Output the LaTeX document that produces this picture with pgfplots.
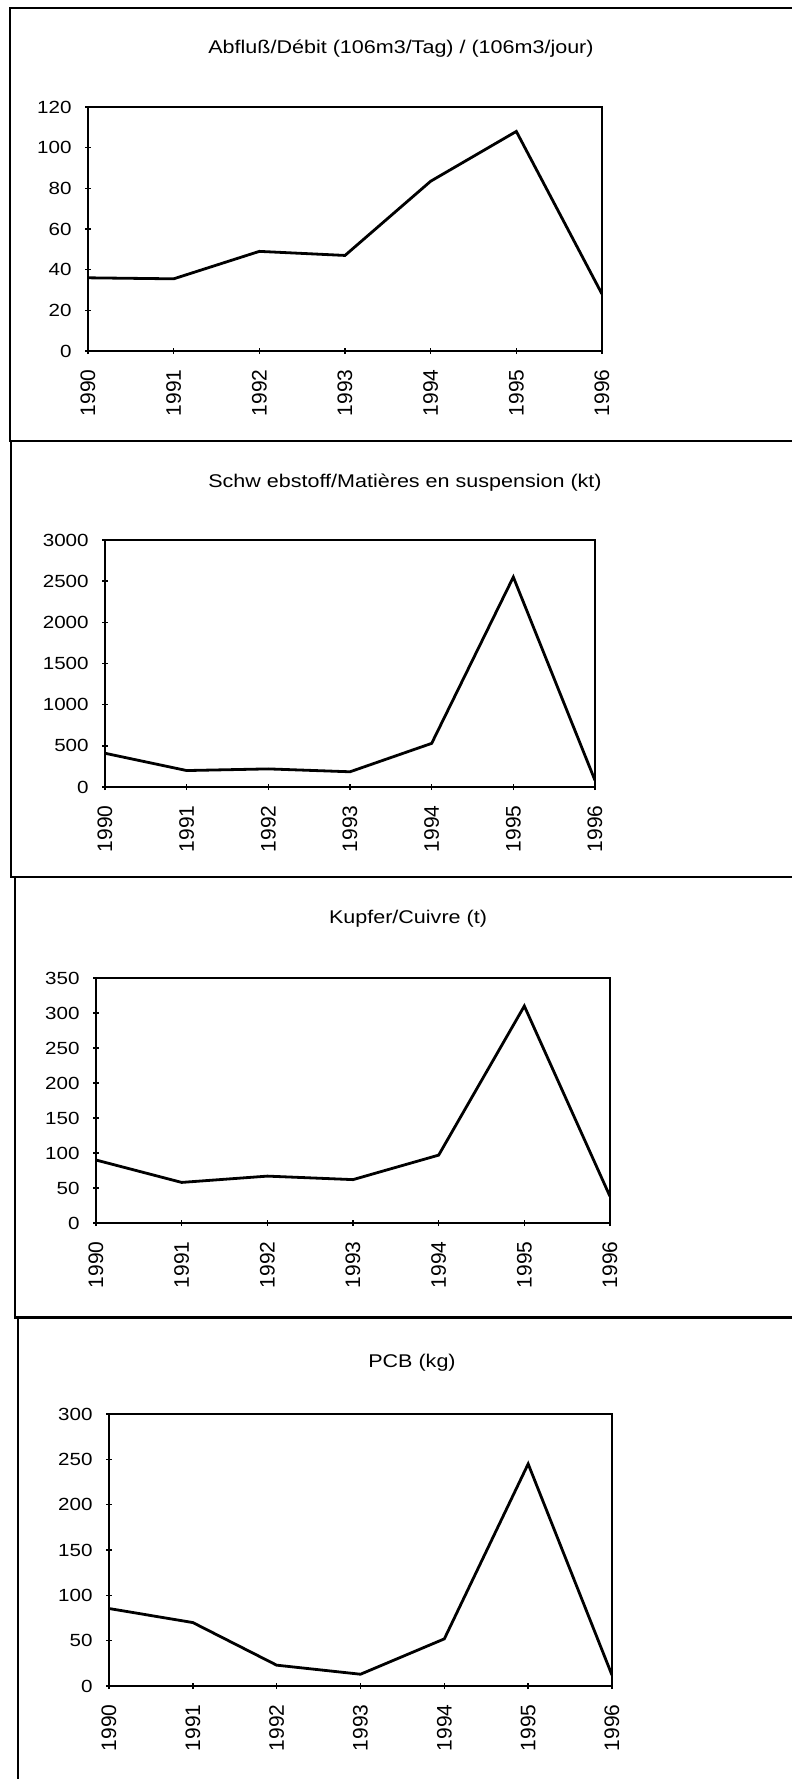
\documentclass[border=0pt]{standalone}
\usepackage{fontspec}
\setmainfont{Liberation Sans}[FakeStretch=1.17]
\newfontfamily\xlab{Liberation Sans}
\usepackage{pgfplots}
\pgfplotsset{compat=1.18}

\pgfplotsset{
  panel/.style={
    scale only axis,
    anchor=south west,
    xmin=1990, xmax=1996,
    xtick={1990,...,1996},
    ymin=0,
    xtick pos=bottom,
    ytick pos=left,
    tick align=center,
    major tick length=3pt,
    every tick/.style={black, line width=0.7pt},
    axis line style={line width=1pt},
    /pgf/number format/assume math mode=true,
    /pgf/number format/1000 sep={},
    yticklabel style={font=\fontsize{8.8}{10}\selectfont, inner sep=0pt},
    yticklabel shift=6.5pt,
    xticklabel style={font=\xlab\fontsize{10.5}{12}\selectfont, rotate=90, anchor=east, inner sep=0pt},
    xticklabel shift=7.5pt,
  },
  curve/.style={black, line width=1.4pt, no marks},
}

\begin{document}
\begin{tikzpicture}
\useasboundingbox (0pt,0pt) rectangle (396pt,-889.5pt);

% panel frames
\draw[line width=1.3pt] (5pt,-4pt) rectangle (420pt,-220.5pt);
\draw[line width=1.3pt] (5.5pt,-220.5pt) rectangle (420pt,-438.5pt);
\draw[line width=1.3pt] (7.5pt,-438.5pt) rectangle (420pt,-658.75pt);
\draw[line width=1.3pt] (9pt,-658.75pt) rectangle (420pt,-900pt);

% titles
\node[font=\fontsize{9.2}{11}\selectfont] at (200.5pt,-24.5pt) {Abfluß/Débit (106m3/Tag) / (106m3/jour)};
\node[font=\fontsize{9.2}{11}\selectfont] at (202.5pt,-241.5pt) {Schw ebstoff/Matières en suspension (kt)};
\node[font=\fontsize{9.2}{11}\selectfont] at (204pt,-459.5pt) {Kupfer/Cuivre (t)};
\node[font=\fontsize{9.2}{11}\selectfont] at (206pt,-681.5pt) {PCB (kg)};

% Abfluss
\begin{axis}[panel, at={(44pt,-175.5pt)}, width=257pt, height=122pt,
  ymax=120, ytick={0,20,...,120}]
\addplot[curve] coordinates {
(1990,36) (1991,35.5) (1992,49) (1993,47) (1994,83.5) (1995,108) (1996,28)
};
\end{axis}

% Schwebstoff
\begin{axis}[panel, at={(52.5pt,-393.5pt)}, width=245pt, height=123.5pt,
  ymax=3000, ytick={0,500,...,3000}]
\addplot[curve] coordinates {
(1990,410) (1991,200) (1992,220) (1993,185) (1994,530) (1995,2550) (1996,80)
};
\end{axis}

% Kupfer
\begin{axis}[panel, at={(48pt,-611.5pt)}, width=257pt, height=122.5pt,
  ymax=350, ytick={0,50,...,350}]
\addplot[curve] coordinates {
(1990,90) (1991,58) (1992,67) (1993,62) (1994,97) (1995,310) (1996,38)
};
\end{axis}

% PCB
\begin{axis}[panel, at={(54.5pt,-843pt)}, width=251.5pt, height=136pt,
  ymax=300, ytick={0,50,...,300}]
\addplot[curve] coordinates {
(1990,85.5) (1991,70) (1992,23) (1993,13) (1994,52) (1995,245) (1996,12)
};
\end{axis}
\end{tikzpicture}
\end{document}
